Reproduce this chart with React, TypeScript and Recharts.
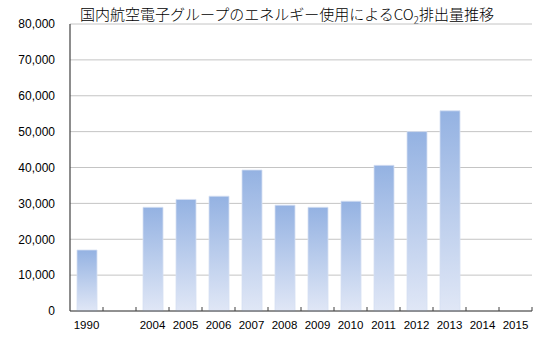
import React from 'react';
import { BarChart, Bar, XAxis, YAxis, CartesianGrid } from 'recharts';

const years = ['1990', '', '2004', '2005', '2006', '2007', '2008', '2009', '2010', '2011', '2012', '2013', '2014', '2015'];
const co2 = [17000, null, 28900, 31100, 32000, 39300, 29500, 28900, 30600, 40600, 50000, 55800, null, null];
const yTicks = [0, 10000, 20000, 30000, 40000, 50000, 60000, 70000, 80000];
const titleMain = '国内航空電子グループのエネルギー使用によるCO';
const titleSub = '2';
const titleEnd = '排出量推移';

const data = years.map((y, i) => ({ year: y, value: co2[i] }));

const XTick = (props: any) => {
  const { x, y, payload } = props;
  const half = payload && typeof payload.offset === 'number' && payload.offset > 0 ? payload.offset : 16.5;
  return (
    <g>
      <text x={x} y={y + 18} textAnchor="middle" fontSize={11.5} fill="#000" fontFamily="Liberation Sans, Arial, sans-serif">
        {payload.value}
      </text>
      <line x1={x + half} x2={x + half} y1={y} y2={y - 4} stroke="#404040" strokeWidth={1} />
    </g>
  );
};

export default function App() {
  return (
    <div style={{ position: 'absolute', left: 0, top: 0, width: 550, height: 352, background: '#fff' }}>
      <div
        style={{
          position: 'absolute',
          left: 0,
          top: 4,
          width: 574,
          textAlign: 'center',
          fontFamily: '"Noto Sans CJK JP", sans-serif',
          fontSize: 15,
          fontWeight: 300,
          lineHeight: '20px',
          color: '#000',
          whiteSpace: 'nowrap',
        }}
      >
        {titleMain}
        <span style={{ fontSize: 10, verticalAlign: 'sub' }}>{titleSub}</span>
        {titleEnd}
      </div>
      <BarChart
        width={550}
        height={352}
        data={data}
        margin={{ top: 24, right: 18, left: 0, bottom: 11 }}
        barSize={20}
      >
        <defs>
          <linearGradient id="barGrad" x1="0" y1="0" x2="0" y2="1">
            <stop offset="0%" stopColor="#94b2e2" />
            <stop offset="100%" stopColor="#e0e7f6" />
          </linearGradient>
        </defs>
        <CartesianGrid vertical={false} stroke="#c4c4c4" strokeWidth={1} />
        <XAxis
          dataKey="year"
          height={30}
          tickSize={0}
          tickMargin={0}
          tick={<XTick />}
          axisLine={{ stroke: '#404040', strokeWidth: 1.2 }}
          interval={0}
        />
        <YAxis
          width={70}
          domain={[0, 80000]}
          ticks={yTicks}
          tickSize={0}
          tickMargin={15}
          tickLine={false}
          axisLine={{ stroke: '#404040', strokeWidth: 1.2 }}
          tick={{ fontSize: 12, fill: '#000', fontFamily: 'Liberation Sans, Arial, sans-serif' }}
          tickFormatter={(v: number) => v.toLocaleString('en-US')}
        />
        <YAxis
          yAxisId="r"
          orientation="right"
          width={0}
          domain={[0, 80000]}
          ticks={yTicks}
          tick={false}
          tickLine={false}
          axisLine={{ stroke: '#a8a8a8', strokeWidth: 1 }}
        />
        <Bar dataKey="value" fill="url(#barGrad)" stroke="#d6e0f3" strokeWidth={0.8} isAnimationActive={false} />
      </BarChart>
    </div>
  );
}
